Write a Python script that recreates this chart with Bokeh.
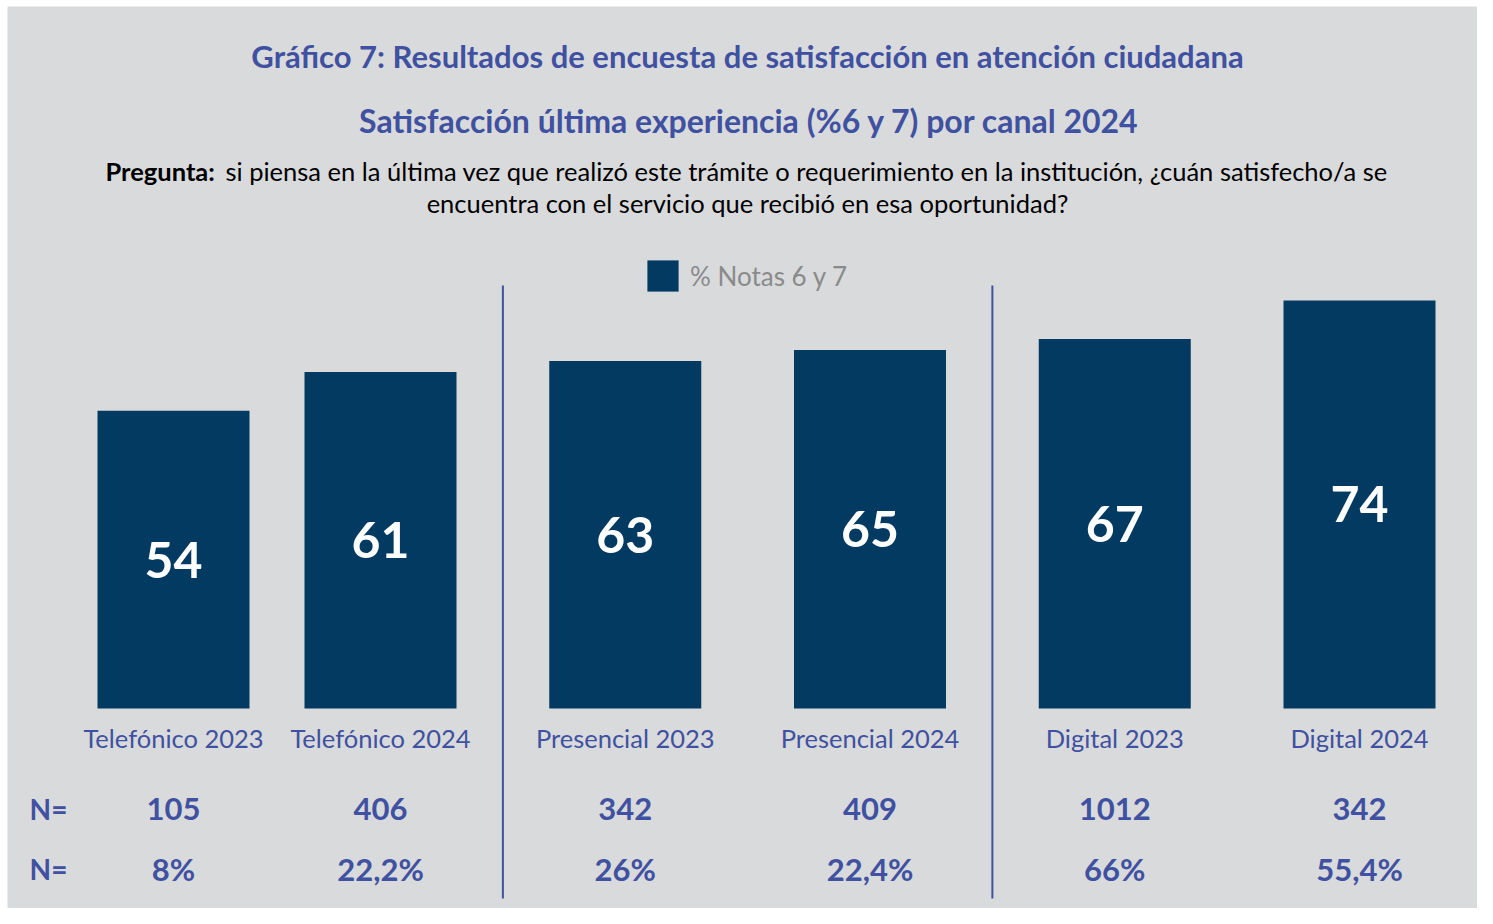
import numpy as np
from bokeh.plotting import figure
from bokeh.models import ColumnDataSource, Range1d
from bokeh.core.properties import value
from bokeh.embed import file_html
from bokeh.resources import INLINE

# ---------------- data ----------------
categories = ["Telefónico 2023", "Telefónico 2024", "Presencial 2023",
              "Presencial 2024", "Digital 2023", "Digital 2024"]
pct_notas_6_7 = [54, 61, 63, 65, 67, 74]
n_counts = ["105", "406", "342", "409", "1012", "342"]
share_labels = ["8%", "22,2%", "26%", "22,4%", "66%", "55,4%"]
series_name = "% Notas 6 y 7"
title_text = "Gráfico 7: Resultados de encuesta de satisfacción en atención ciudadana"
subtitle_text = "Satisfacción última experiencia (%6 y 7) por canal 2024"
question_bold = "Pregunta:"
question_line1 = "si piensa en la última vez que realizó este trámite o requerimiento en la institución, ¿cuán satisfecho/a se"
question_line2 = "encuentra con el servicio que recibió en esa oportunidad?"
row_label = "N="

# ---------------- layout ----------------
W, H = 1477, 908
LEFT_PAD, TOP_PAD = 7, 6
BASE_Y, PX_PER_UNIT = 708, 5.515
SLOT_PX, SLOT1_X = 244.75, 380
FIRST_SHIFT = 1 - 207 / SLOT_PX  # first bar sits closer to the second

BG = "#d9dadc"
BAR = "#033a62"
BLUE = "#3f51a0"
FONT = value("Lato")


def X(img_x):
    return 1 + (img_x - SLOT1_X) / SLOT_PX


def Y(img_y):
    return (BASE_Y - img_y) / PX_PER_UNIT


slots = np.arange(len(categories), dtype=float)
slots[0] += FIRST_SHIFT

p = figure(width=W, height=H, output_backend="svg", toolbar_location=None,
           x_range=Range1d(X(LEFT_PAD), X(W)),
           y_range=Range1d(Y(H), Y(TOP_PAD)),
           min_border=0, min_border_left=LEFT_PAD, min_border_top=TOP_PAD)
p.background_fill_color = BG
p.border_fill_color = "white"
p.outline_line_color = None
p.axis.visible = False
p.grid.visible = False

src = ColumnDataSource(dict(x=slots, top=pct_notas_6_7, cat=categories,
                            n=n_counts, share=share_labels,
                            mid=[v / 2 for v in pct_notas_6_7],
                            lbl=[str(v) for v in pct_notas_6_7]))

p.vbar(x="x", top="top", bottom=0, width=152 / SLOT_PX, source=src,
       fill_color=BAR, line_color=None, legend_label=series_name)

# values inside bars
p.text(x="x", y="mid", text="lbl", source=src, text_color="white",
       text_font=FONT, text_font_style="bold", text_font_size="50px",
       text_align="center", text_baseline="middle")

# category labels
p.text(x="x", y=Y(737), text="cat", source=src, text_color=BLUE,
       text_font=FONT, text_font_size="25.5px",
       text_align="center", text_baseline="middle")

# N rows
p.text(x="x", y=Y(808), text="n", source=src, text_color=BLUE,
       text_font=FONT, text_font_style="bold", text_font_size="31px",
       text_align="center", text_baseline="middle")
p.text(x="x", y=Y(868), text="share", source=src, text_color=BLUE,
       text_font=FONT, text_font_style="bold", text_font_size="31px",
       text_align="center", text_baseline="middle")
p.text(x=[X(48), X(48)], y=[Y(808), Y(868)], text=[row_label, row_label],
       text_color=BLUE, text_font=FONT, text_font_style="bold",
       text_font_size="28px", text_align="center", text_baseline="middle")

# separators between channels
sep_x = [(slots[1] + slots[2]) / 2, (slots[3] + slots[4]) / 2]
p.segment(x0=sep_x, x1=sep_x, y0=Y(898), y1=Y(285), line_color=BLUE,
          line_width=2)

# titles
p.text(x=[X(747)], y=[Y(55)], text=[title_text], text_color=BLUE,
       text_font=FONT, text_font_style="bold", text_font_size="31px",
       text_align="center", text_baseline="middle")
p.text(x=[X(749)], y=[Y(120)], text=[subtitle_text], text_color=BLUE,
       text_font=FONT, text_font_style="bold", text_font_size="32px",
       text_align="center", text_baseline="middle")
p.text(x=[X(105)], y=[Y(170)], text=[question_bold], text_color="black",
       text_font=FONT, text_font_style="bold", text_font_size="25.5px",
       text_align="left", text_baseline="middle")
p.text(x=[X(225)], y=[Y(170)], text=[question_line1], text_color="black",
       text_font=FONT, text_font_size="25.5px",
       text_align="left", text_baseline="middle")
p.text(x=[X(747)], y=[Y(202)], text=[question_line2], text_color="black",
       text_font=FONT, text_font_size="25.5px",
       text_align="center", text_baseline="middle")

# legend
lg = p.legend[0]
lg.location = (643 - LEFT_PAD, H - 295)
lg.padding = 0
lg.margin = 0
lg.glyph_width = 39
lg.glyph_height = 39
lg.label_height = 39
lg.label_standoff = 8
lg.label_text_font = "Lato"
lg.label_text_font_size = "26px"
lg.label_text_color = "#8a8a8a"
lg.background_fill_alpha = 0
lg.border_line_color = None

open("out.html", "w").write(file_html(p, INLINE))
